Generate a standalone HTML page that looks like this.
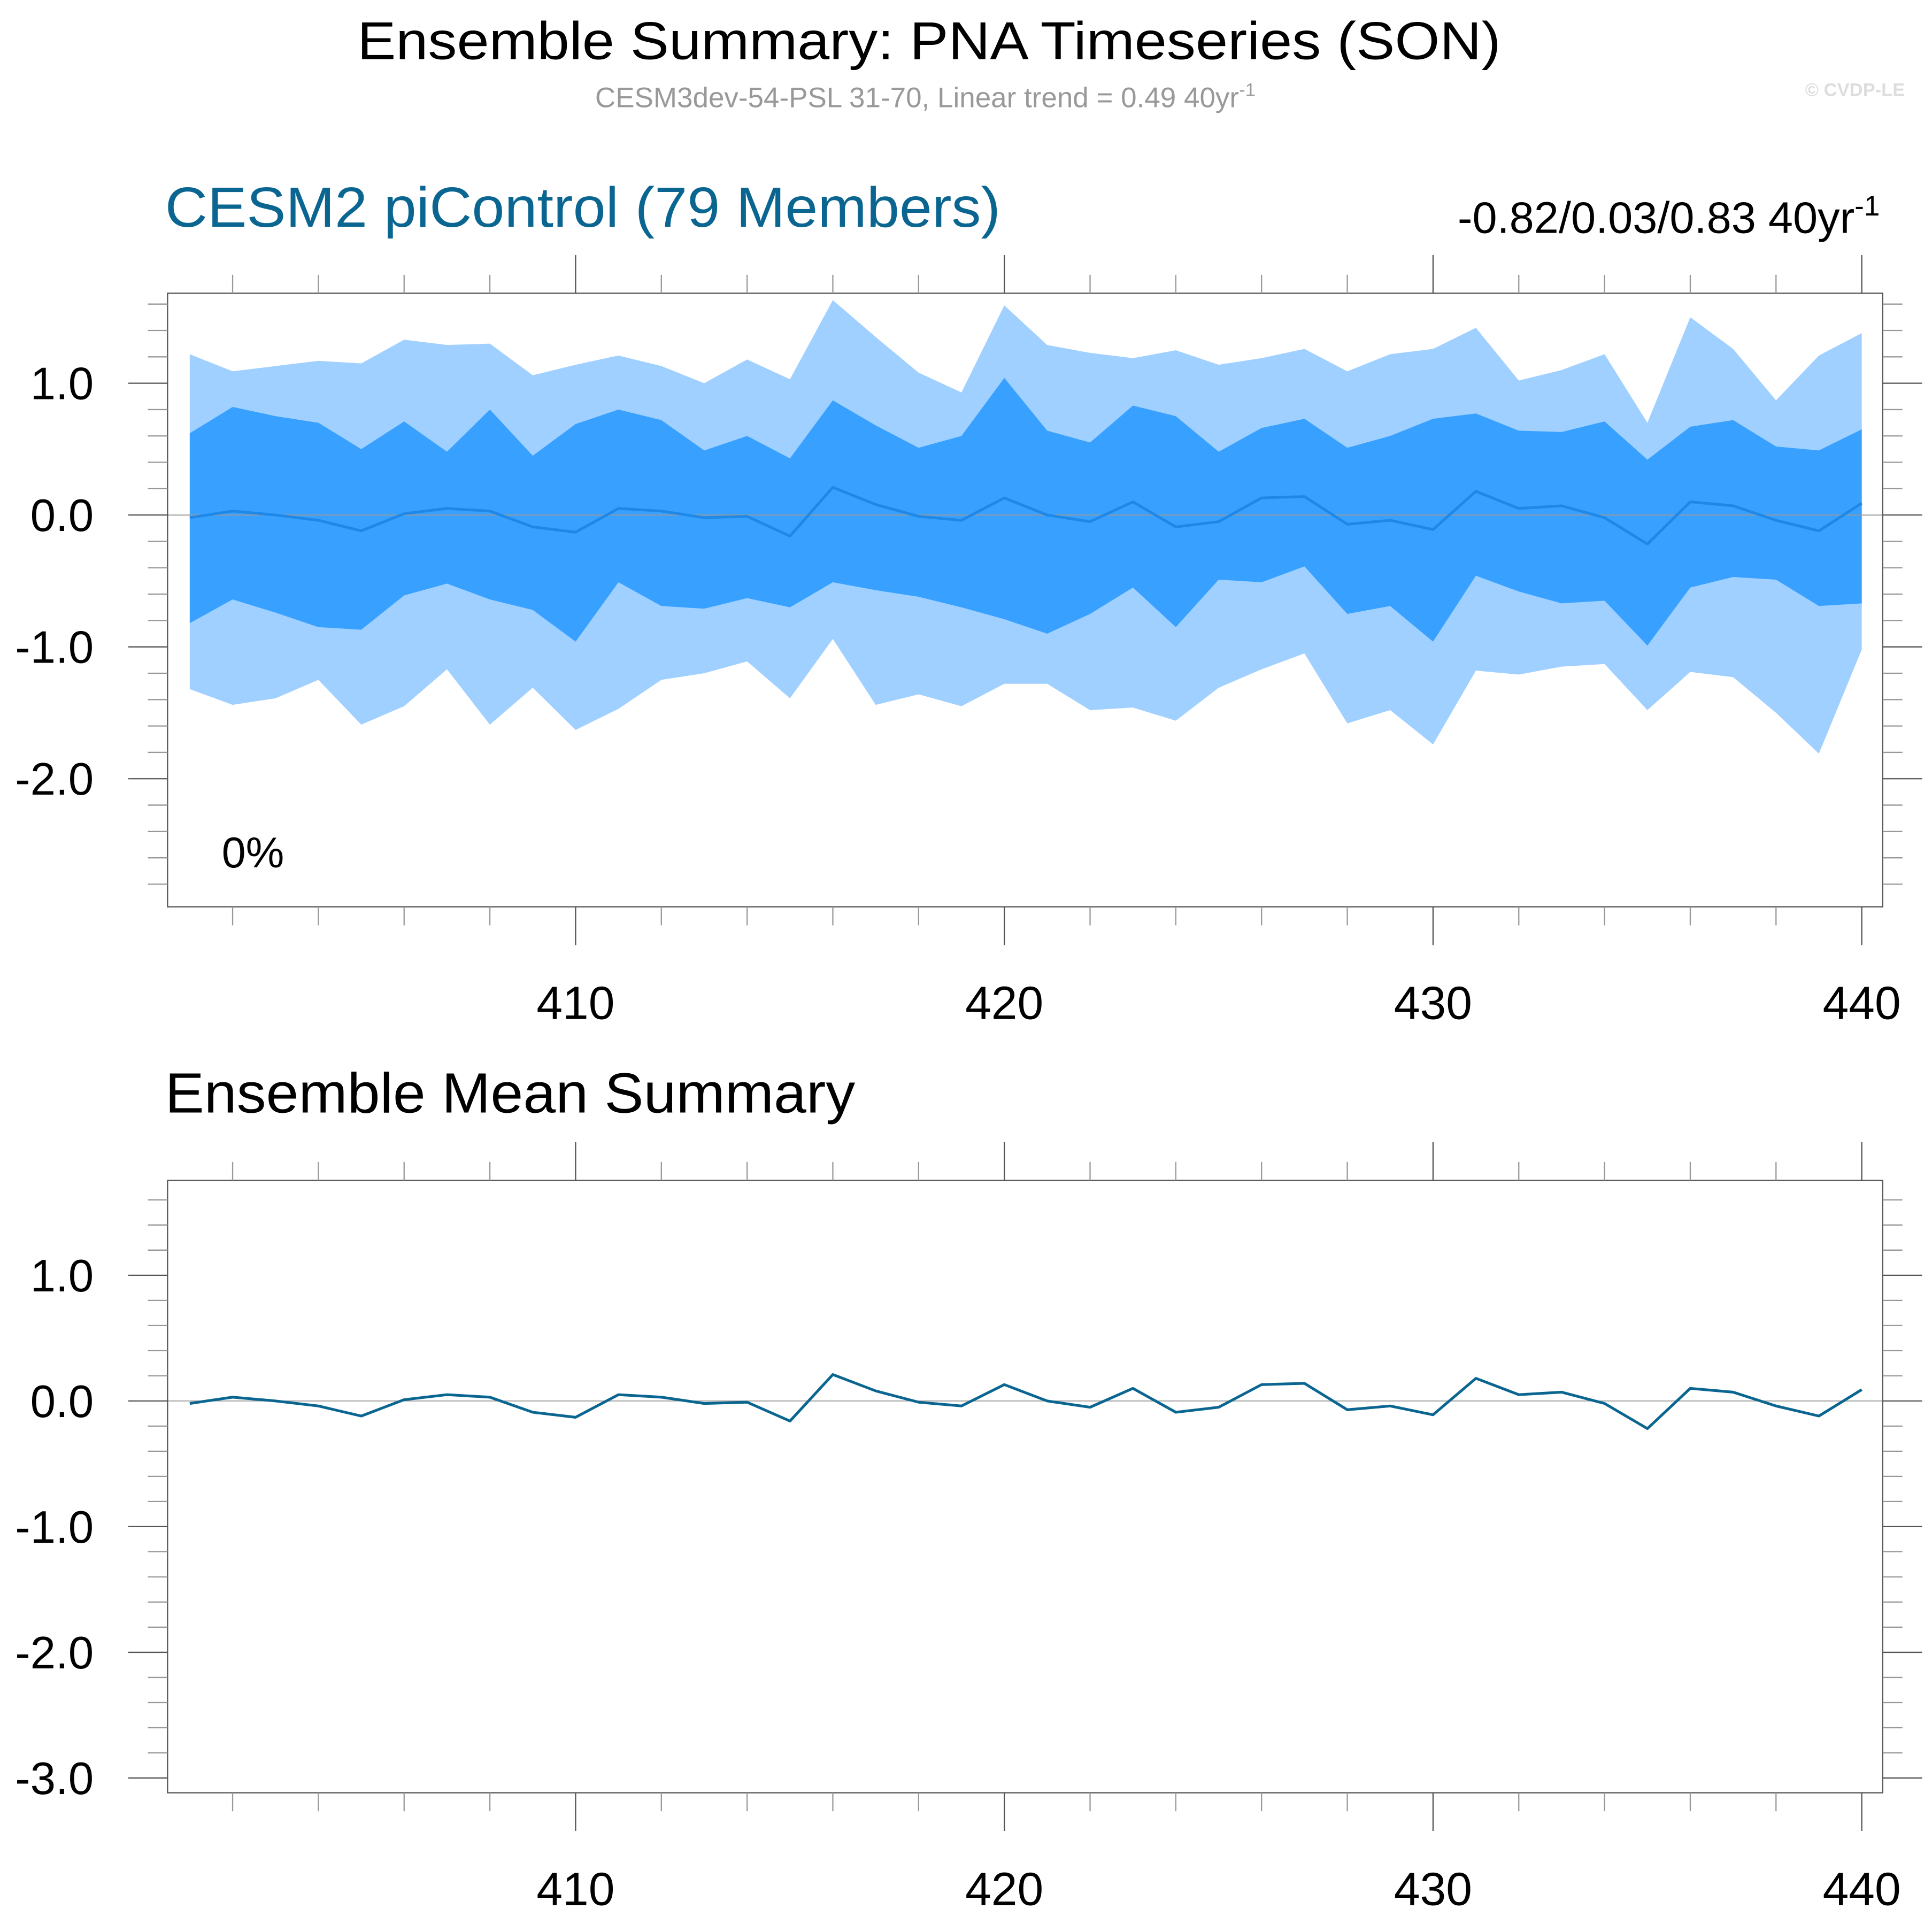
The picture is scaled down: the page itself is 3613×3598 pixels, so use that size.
<!DOCTYPE html>
<html><head><meta charset="utf-8"><style>
html,body{margin:0;padding:0;background:#fff;}
svg{display:block;font-family:"Liberation Sans",sans-serif;}
</style></head><body>
<svg id="chart" width="3613" height="3598" viewBox="0 0 1568 1561.5" xmlns="http://www.w3.org/2000/svg">
<text x="754" y="48" font-size="43" text-anchor="middle" fill="#000" textLength="928" lengthAdjust="spacingAndGlyphs">Ensemble Summary: PNA Timeseries (SON)</text>
<text x="483" y="87" font-size="23" fill="#999">CESM3dev-54-PSL 31-70, Linear trend = 0.49 40yr<tspan dy="-9" font-size="15">-1</tspan></text>
<text x="1546" y="78" font-size="15" font-weight="bold" text-anchor="end" fill="#ddd">© CVDP-LE</text>
<text x="134" y="184" font-size="46" fill="#0a6690" textLength="678" lengthAdjust="spacingAndGlyphs">CESM2 piControl (79 Members)</text>
<text x="1183" y="189" font-size="36" fill="#000">-0.82/0.03/0.83 40yr<tspan dy="-14" font-size="23">-1</tspan></text>
<text x="134" y="903" font-size="46" fill="#000" textLength="560" lengthAdjust="spacingAndGlyphs">Ensemble Mean Summary</text>
<g id="top"></g><g id="bot"></g>
</svg>
<script>
const years=[401,402,403,404,405,406,407,408,409,410,411,412,413,414,415,416,417,418,419,420,421,422,423,424,425,426,427,428,429,430,431,432,433,434,435,436,437,438,439,440];
const meanVals=[-0.02,0.03,0.0,-0.04,-0.12,0.01,0.05,0.03,-0.09,-0.13,0.05,0.03,-0.02,-0.01,-0.16,0.21,0.08,-0.01,-0.04,0.13,0.0,-0.05,0.10,-0.09,-0.05,0.13,0.14,-0.07,-0.04,-0.11,0.18,0.05,0.07,-0.02,-0.22,0.10,0.07,-0.04,-0.12,0.09];
const innerHi=[0.62,0.82,0.75,0.70,0.50,0.71,0.48,0.80,0.45,0.69,0.80,0.72,0.49,0.60,0.43,0.87,0.68,0.51,0.60,1.04,0.64,0.55,0.83,0.75,0.48,0.66,0.73,0.51,0.60,0.73,0.77,0.64,0.63,0.71,0.42,0.67,0.72,0.52,0.49,0.65];
const innerLo=[-0.82,-0.64,-0.74,-0.85,-0.87,-0.61,-0.52,-0.64,-0.72,-0.96,-0.51,-0.69,-0.71,-0.63,-0.70,-0.51,-0.57,-0.62,-0.70,-0.79,-0.90,-0.75,-0.55,-0.85,-0.49,-0.51,-0.39,-0.75,-0.69,-0.96,-0.46,-0.58,-0.67,-0.65,-0.99,-0.55,-0.47,-0.49,-0.69,-0.67];
const outerHi=[1.22,1.09,1.13,1.17,1.15,1.33,1.29,1.30,1.06,1.14,1.21,1.13,1.00,1.18,1.03,1.63,1.35,1.08,0.93,1.59,1.29,1.23,1.19,1.25,1.14,1.19,1.26,1.09,1.22,1.26,1.42,1.02,1.10,1.22,0.70,1.50,1.26,0.87,1.21,1.38];
const outerLo=[-1.32,-1.44,-1.39,-1.25,-1.59,-1.45,-1.17,-1.59,-1.31,-1.63,-1.47,-1.25,-1.20,-1.11,-1.39,-0.94,-1.44,-1.36,-1.45,-1.28,-1.28,-1.48,-1.46,-1.56,-1.31,-1.17,-1.05,-1.58,-1.48,-1.74,-1.18,-1.21,-1.15,-1.13,-1.48,-1.19,-1.23,-1.50,-1.81,-1.02];
const xTickLabels=[410,420,430,440];
const yTickLabelsTop=[1.0,0.0,-1.0,-2.0];
const yTickLabelsBot=[1.0,0.0,-1.0,-2.0,-3.0];

const NS="http://www.w3.org/2000/svg";
function mk(p,t,a){const e=document.createElementNS(NS,t);for(const k in a)e.setAttribute(k,a[k]);p.appendChild(e);return e;}
const X=y=>154+(y-401)*(1511-154)/39;
function panel(g,y0,y1,yzero,ppu,ymin,ymax,labels,bands,lineColor,tag){
  const Y=v=>yzero-ppu*v;
  const L=136,R=1528;
  if(bands){
    const po=years.map((y,i)=>X(y)+','+Y(outerHi[i])).concat(years.map((y,i)=>X(y)+','+Y(outerLo[i])).reverse()).join(' ');
    const o=mk(g,'polygon',{points:po,fill:'#a0d0ff'});
    
    
    const pi=years.map((y,i)=>X(y)+','+Y(innerHi[i])).concat(years.map((y,i)=>X(y)+','+Y(innerLo[i])).reverse()).join(' ');
    const n=mk(g,'polygon',{points:pi,fill:'#38a0ff'});
    
    
  }
  const z=mk(g,'line',{x1:L,x2:R,y1:Y(0),y2:Y(0),stroke:'#999','stroke-width':0.8});
  
  
  const ln=mk(g,'polyline',{points:years.map((y,i)=>X(y)+','+Y(meanVals[i])).join(' '),fill:'none',stroke:lineColor,'stroke-width':2.2,'stroke-linejoin':'round'});
  
  
  const f=mk(g,'rect',{x:L,y:y0,width:R-L,height:y1-y0,fill:'none',stroke:'#555','stroke-width':1});
  
  
  for(let y=402;y<=440;y+=2){
    const maj=(y%10===0);const len=maj?31:15;
    mk(g,'line',{x1:X(y),x2:X(y),y1:y0,y2:y0-len,stroke:maj?'#555':'#999','stroke-width':1});
    mk(g,'line',{x1:X(y),x2:X(y),y1:y1,y2:y1+len,stroke:maj?'#555':'#999','stroke-width':1});
  }
  for(let k=Math.ceil(ymin*5);k<=Math.floor(ymax*5);k++){
    const v=k/5;const maj=(k%5===0);const len=maj?32:16;
    mk(g,'line',{x1:L,x2:L-len,y1:Y(v),y2:Y(v),stroke:maj?'#555':'#999','stroke-width':1});
    mk(g,'line',{x1:R,x2:R+len,y1:Y(v),y2:Y(v),stroke:maj?'#555':'#999','stroke-width':1});
  }
  labels.forEach(v=>{
    const t=mk(g,'text',{x:76,y:Y(v)+13,'font-size':37,'text-anchor':'end',fill:'#000'});
    t.textContent=v.toFixed(1);
    
    
  });
  xTickLabels.forEach(v=>{
    const t=mk(g,'text',{x:X(v),y:y1+91,'font-size':38,'text-anchor':'middle',fill:'#000'});
    t.textContent=v;
    
    
  });
}
panel(document.getElementById('top'),238,736,418,107,-2.97,1.68,yTickLabelsTop,true,'#1e88e8','top');
panel(document.getElementById('bot'),958,1455,1137,102,-3.12,1.75,yTickLabelsBot,false,'#0a6690','bottom');
const pc=mk(document.getElementById('top'),'text',{x:180,y:704,'font-size':35,fill:'#000'});
pc.textContent='0%';


</script>
</body></html>
